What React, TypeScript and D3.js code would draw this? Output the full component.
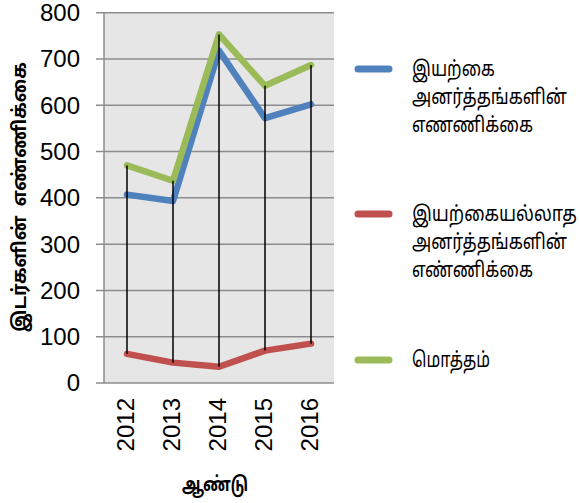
import React, { useLayoutEffect, useRef, useState } from "react";
import * as d3 from "d3";

const years = ["2012", "2013", "2014", "2015", "2016"];
const natural = [407, 393, 718, 572, 602];
const manMade = [63, 44, 35, 70, 85];
const total = [470, 437, 753, 642, 687];
const yTicks = [0, 100, 200, 300, 400, 500, 600, 700, 800];

const seriesNames = [
  ["இயற்கை", "அனர்த்தங்களின்", "எணணிக்கை"],
  ["இயற்கையல்லாத", "அனர்த்தங்களின்", "எண்ணிக்கை"],
  ["மொத்தம்"],
];
const colors = ["#4F81BD", "#C0504D", "#9BBB59"];
const yTitle = "இடர்களின்  எண்ணிக்கை";
const xTitle = "ஆண்டு";

const W = 579, H = 503;
const left = 104, right = 334, top = 12.7, bottom = 383;
const tamilFont = "'Noto Sans Tamil', 'Lohit Tamil', 'Latha', sans-serif";
const numFont = "'Liberation Sans', Arial, sans-serif";
const legendWidths = [
  [83, 155, 121],
  [165, 155, 121],
  [78],
];

type FitProps = {
  x: number;
  y: number;
  width: number;
  anchor: "start" | "middle";
  rotate?: number;
  fontSize: number;
  bold?: boolean;
  children: string;
};

function FitText({ x, y, width, anchor, rotate = 0, fontSize, bold, children }: FitProps) {
  const ref = useRef<SVGTextElement>(null);
  const [sx, setSx] = useState(1);
  useLayoutEffect(() => {
    if (ref.current) {
      const w = ref.current.getComputedTextLength();
      if (w > 0) setSx(width / w);
    }
  }, [width, children]);
  return (
    <g transform={`translate(${x},${y}) rotate(${rotate}) scale(${sx},1)`}>
      <text
        ref={ref}
        x={0}
        y={0}
        dy="0.35em"
        textAnchor={anchor}
        fontFamily={tamilFont}
        fontWeight={bold ? "bold" : "normal"}
        fontSize={fontSize}
        fill="#000"
        style={{ whiteSpace: "pre" }}
      >
        {children}
      </text>
    </g>
  );
}

export default function App() {
  const x = d3.scaleBand<string>().domain(years).range([left, right]).padding(0);
  const y = d3.scaleLinear().domain([0, 800]).range([bottom, top]);
  const cx = (d: string) => (x(d) as number) + x.bandwidth() / 2;
  const line = d3
    .line<number>()
    .x((_, i) => cx(years[i]))
    .y((v) => y(v));
  const data = [natural, manMade, total];
  const legendY = [69, 214, 360];

  return (
    <svg width={W} height={H} style={{ position: "absolute", left: 0, top: 0, background: "#fff" }}>
      <rect x={left} y={top} width={right - left} height={bottom - top} fill="#E6E6E6" />
      {yTicks.map((t) => (
        <line key={t} x1={96} x2={right} y1={y(t)} y2={y(t)} stroke="#8C8C8C" strokeWidth={1.5} />
      ))}
      <line x1={left} x2={left} y1={top} y2={bottom} stroke="#8C8C8C" strokeWidth={1.5} />
      {yTicks.map((t) => (
        <text key={t} x={80} y={y(t)} dy="0.35em" textAnchor="end" fontFamily={numFont} fontSize={24} fill="#000">
          {t}
        </text>
      ))}
      {data.map((d, i) => (
        <path key={i} d={line(d) || ""} fill="none" stroke={colors[i]} strokeWidth={6.5} strokeLinejoin="round" strokeLinecap="round" />
      ))}
      {years.map((yr, i) => {
        const hi = Math.max(natural[i], manMade[i], total[i]);
        const lo = Math.min(natural[i], manMade[i], total[i]);
        return <line key={yr} x1={cx(yr)} x2={cx(yr)} y1={y(hi)} y2={y(lo)} stroke="#000" strokeWidth={1.5} />;
      })}
      {years.map((yr) => (
        <text
          key={yr}
          transform={`translate(${cx(yr) - 1},${398}) rotate(-90)`}
          textAnchor="end"
          dy="0.35em"
          fontFamily={numFont}
          fontSize={24}
          fill="#000"
        >
          {yr}
        </text>
      ))}
      <FitText x={215} y={483.5} width={66} anchor="middle" fontSize={20} bold>
        {xTitle}
      </FitText>
      <FitText x={19} y={197} width={270} anchor="middle" rotate={-90} fontSize={19} bold>
        {yTitle}
      </FitText>
      {seriesNames.map((lines, i) => (
        <g key={i}>
          <line x1={358} x2={389} y1={legendY[i]} y2={legendY[i]} stroke={colors[i]} strokeWidth={7} strokeLinecap="round" />
          {lines.map((s, j) => (
            <FitText key={j} x={412} y={legendY[i] + j * 28} width={legendWidths[i][j]} anchor="start" fontSize={21}>
              {s}
            </FitText>
          ))}
        </g>
      ))}
    </svg>
  );
}
